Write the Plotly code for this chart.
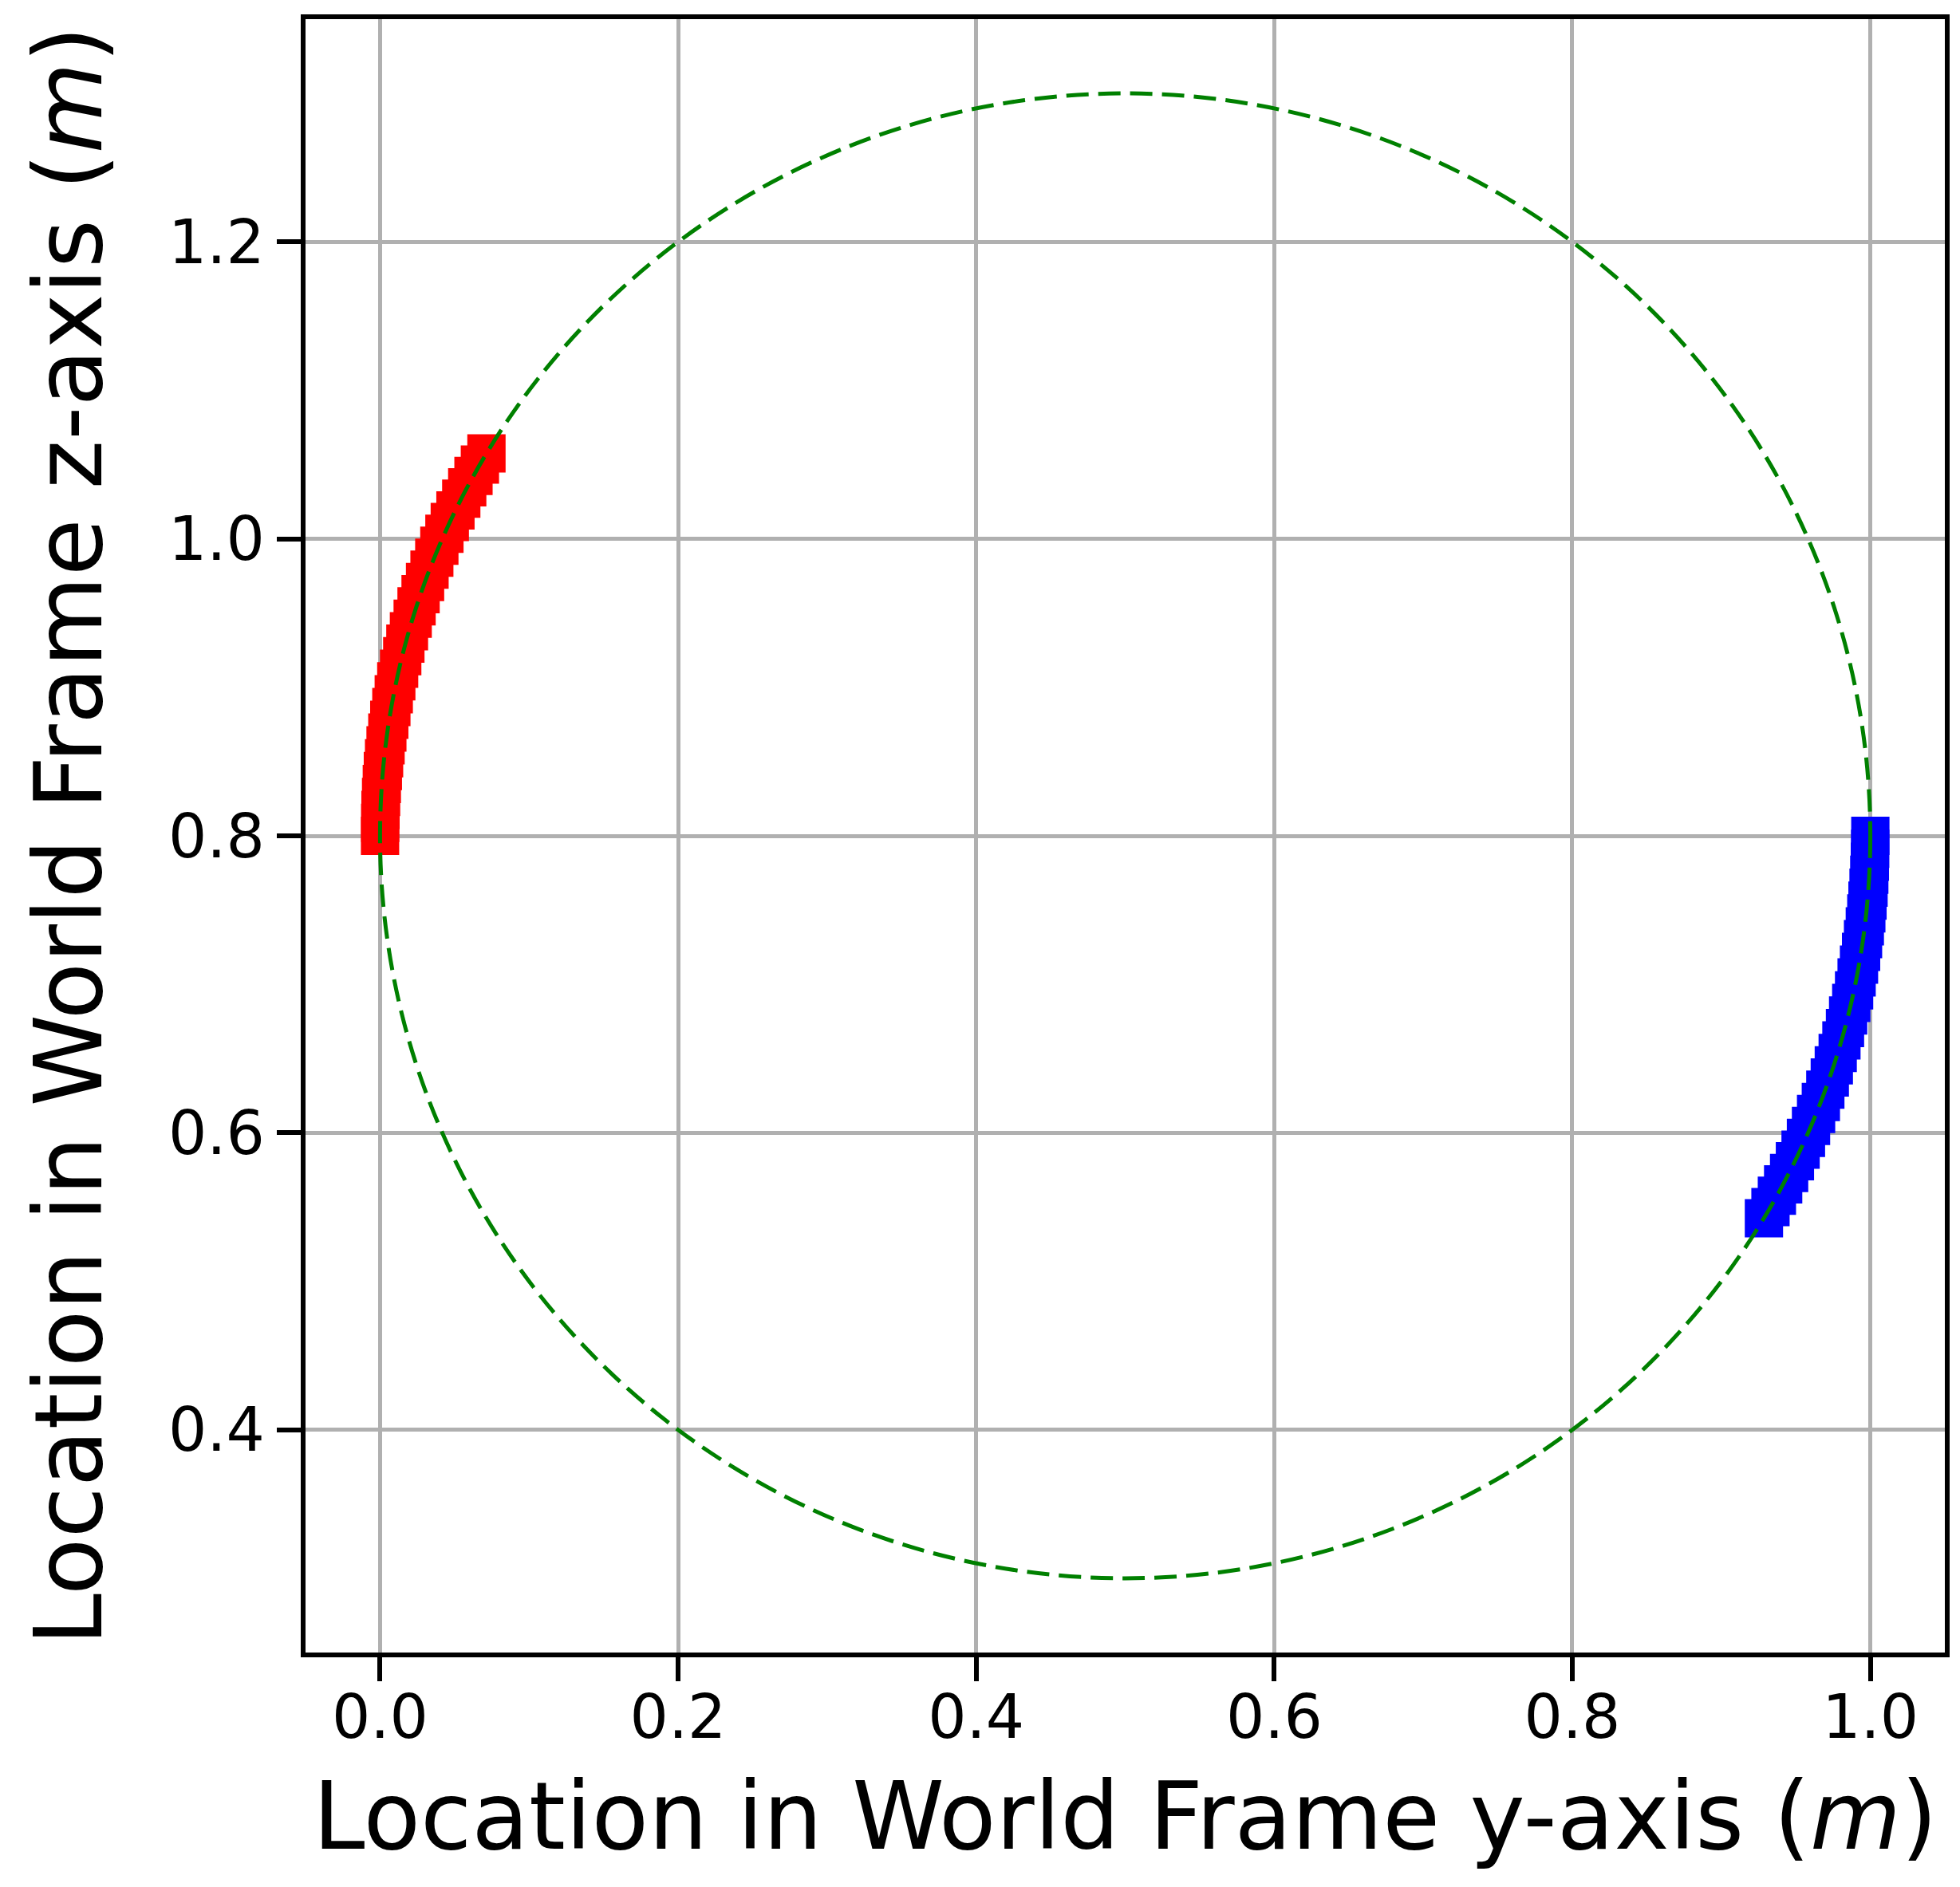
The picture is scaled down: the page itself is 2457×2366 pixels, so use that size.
import plotly.graph_objects as go

# ---- data ----
red_y = [0.0000, 0.0001, 0.0003, 0.0007, 0.0012, 0.0019, 0.0027, 0.0037, 0.0049, 0.0062,
         0.0076, 0.0092, 0.0109, 0.0128, 0.0149, 0.0170, 0.0194, 0.0219, 0.0245, 0.0272,
         0.0302, 0.0332, 0.0364, 0.0398, 0.0432, 0.0468, 0.0506, 0.0545, 0.0585, 0.0627,
         0.0670, 0.0714]
red_z = [0.8000, 0.8087, 0.8175, 0.8262, 0.8349, 0.8436, 0.8523, 0.8609, 0.8696, 0.8782,
         0.8868, 0.8954, 0.9040, 0.9125, 0.9210, 0.9294, 0.9378, 0.9462, 0.9545, 0.9628,
         0.9710, 0.9792, 0.9873, 0.9954, 1.0034, 1.0113, 1.0192, 1.0270, 1.0347, 1.0424,
         1.0500, 1.0575]

blue_y = [1.0000, 0.9999, 0.9997, 0.9993, 0.9988, 0.9981, 0.9973, 0.9963, 0.9951, 0.9938,
          0.9924, 0.9908, 0.9891, 0.9872, 0.9851, 0.9830, 0.9806, 0.9781, 0.9755, 0.9728,
          0.9698, 0.9668, 0.9636, 0.9602, 0.9568, 0.9532, 0.9494, 0.9455, 0.9415, 0.9373,
          0.9330, 0.9286]
blue_z = [0.8000, 0.7913, 0.7825, 0.7738, 0.7651, 0.7564, 0.7477, 0.7391, 0.7304, 0.7218,
          0.7132, 0.7046, 0.6960, 0.6875, 0.6790, 0.6706, 0.6622, 0.6538, 0.6455, 0.6372,
          0.6290, 0.6208, 0.6127, 0.6046, 0.5966, 0.5887, 0.5808, 0.5730, 0.5653, 0.5576,
          0.5500, 0.5425]

circle_center_y = 0.5
circle_center_z = 0.8
circle_radius = 0.5

x_ticks = [0.0, 0.2, 0.4, 0.6, 0.8, 1.0]
y_ticks = [0.4, 0.6, 0.8, 1.0, 1.2]
x_range = [-0.05, 1.05]
y_range = [0.25, 1.35]

FONT = "DejaVu Sans"

fig = go.Figure()
fig.add_trace(go.Scatter(x=red_y, y=red_z, mode="markers",
                         marker=dict(symbol="square", size=48, color="#ff0000",
                                     line=dict(width=0)),
                         showlegend=False))
fig.add_trace(go.Scatter(x=blue_y, y=blue_z, mode="markers",
                         marker=dict(symbol="square", size=48, color="#0000ff",
                                     line=dict(width=0)),
                         showlegend=False))

fig.add_shape(type="circle", xref="x", yref="y",
              x0=circle_center_y - circle_radius, x1=circle_center_y + circle_radius,
              y0=circle_center_z - circle_radius, y1=circle_center_z + circle_radius,
              line=dict(color="#008000", width=5, dash="28px,12px"),
              layer="above")

axis_common = dict(
    showline=True, linecolor="black", linewidth=6, mirror=True,
    showgrid=True, gridcolor="#b0b0b0", gridwidth=5,
    zeroline=False,
    ticks="outside", ticklen=30, tickwidth=6, tickcolor="black",
    tickfont=dict(family=FONT, size=76, color="black"),
    tickformat=".1f",
    automargin=False,
)

fig.update_xaxes(**axis_common, range=x_range, tickvals=x_ticks,
                 ticklabelstandoff=-20,
                 title=dict(text="Location in World Frame y-axis (<i>m</i>)",
                            font=dict(family=FONT, size=117, color="black"),
                            standoff=42))
fig.update_yaxes(**axis_common, range=y_range, tickvals=y_ticks,
                 title=dict(text="Location in World Frame z-axis (<i>m</i>)",
                            font=dict(family=FONT, size=117, color="black"),
                            standoff=46))

fig.update_layout(
    width=2457, height=2366,
    margin=dict(l=375, r=27, t=16, b=302),
    paper_bgcolor="white", plot_bgcolor="white",
    font=dict(family=FONT, color="black"),
)

fig.write_html("out.html")
